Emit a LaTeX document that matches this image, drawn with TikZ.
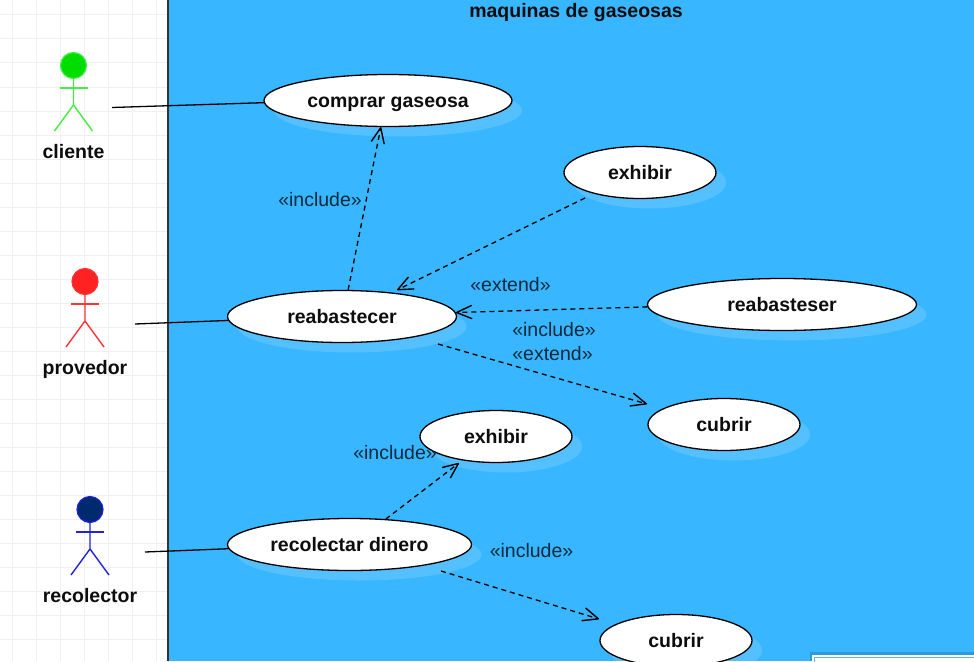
\documentclass[tikz,border=0pt]{standalone}
\usepackage{fontspec}
\setmainfont{Liberation Sans}
\usetikzlibrary{arrows.meta,shapes.geometric,shadows}
\definecolor{canvas}{HTML}{38B6FF}
\definecolor{gridline}{HTML}{F0F0F0}
\definecolor{labeltext}{HTML}{0B2A3E}
\tikzset{
	usecase/.style={ellipse,draw=black,line width=1.3pt,fill=white,inner sep=0pt,minimum height=52pt,text height=14.5pt,text depth=0pt,font=\fontsize{19.5}{24}\selectfont\bfseries,text=black!95,drop shadow={shadow xshift=10pt,shadow yshift=-10pt,fill=white,opacity=.15}},
	rel/.style={line width=1.3pt,black},
	dep/.style={rel,dash pattern=on 5pt off 4pt,-{Straight Barb[length=15pt,width=13pt,line width=1.4pt,round=false]}},
	tag/.style={font=\fontsize{19.5}{24}\selectfont,text=labeltext},
	actorname/.style={text height=14.5pt,text depth=0pt,font=\fontsize{19.5}{24}\selectfont\bfseries,text=black!95},
}
\begin{document}
\begin{tikzpicture}[x=1pt,y=-1pt]
	\useasboundingbox(0,0)rectangle(974,661);
	\clip(0,0)rectangle(974,661);
	\fill[white](0,0)rectangle(974,661);
	\foreach\i in{0,...,6}{\draw[gridline,line width=1pt](12.5+24*\i,0)--(12.5+24*\i,661);}
	\foreach\i in{0,...,27}{\draw[gridline,line width=1pt](0,15+24*\i)--(168,15+24*\i);}
	\fill[canvas](168,0)rectangle(974,661);
	\draw[black!80,line width=2pt](168,0)--(168,661);
	\node[actorname](title)at(576,10){maquinas de gaseosas};
	%casos de uso
	\node[usecase,minimum width=248pt](comprar)at(388,100.5){comprar gaseosa};
	\node[usecase,minimum width=152pt](exhibirA)at(640,172.5){exhibir};
	\node[usecase,minimum width=229pt](reabastecer)at(342,316.5){reabastecer};
	\node[usecase,minimum width=269pt](reabasteser)at(782,304.5){reabasteser};
	\node[usecase,minimum width=152pt](cubrirA)at(724,424.5){cubrir};
	\node[usecase,minimum width=152pt](exhibirB)at(496,436.5){exhibir};
	\node[usecase,minimum width=244pt](recolectar)at(349.5,544.5){recolectar dinero};
	\node[usecase,minimum width=152pt](cubrirB)at(676,640.5){cubrir};
	%actores
	\foreach\a/\x/\y/\c/\l/\t in{%
		cliente/73.5/65.5/00DD00/44EE44/cliente,%
		provedor/85/281.5/FF2222/FF3333/provedor,%
		recolector/90/509.5/002A6E/2222DD/recolector}{
		\definecolor{headfill}{HTML}{\c}
		\definecolor{bodyline}{HTML}{\l}
		\node[circle,draw=bodyline,fill=headfill,line width=1.2pt,minimum size=26pt,inner sep=0pt](\a)at(\x,\y){};
		\draw[bodyline,line width=1.4pt](\a.south)--(\x,\y+39.5)--(\x-19,\y+65.5);
		\draw[bodyline,line width=1.4pt](\x,\y+39.5)--(\x+19,\y+65.5);
		\draw[bodyline,line width=1.4pt](\x-14,\y+22.5)--(\x+14,\y+22.5);
		\node[actorname](\a label)at(\x,\y+85.5){\t};
	}
	%extremos libres
	\coordinate(clienteEnd)at(112,107.5);
	\coordinate(provedorEnd)at(135,324);
	\coordinate(recolectorEnd)at(145,552);
	\coordinate(exhibirOut)at(585,198);
	\coordinate(reabIn)at(397,290);
	\coordinate(reabOut)at(438,344);
	\coordinate(cubrirAIn)at(647,404);
	\coordinate(exhibirBIn)at(459,463);
	\coordinate(recolectarOut)at(441,571);
	\coordinate(cubrirBIn)at(599,619);
	\draw[rel](clienteEnd)--(comprar.181.5);
	\draw[rel](provedorEnd)--(reabastecer.182);
	\draw[rel](recolectorEnd)--(recolectar.182);
	\draw[dep](reabastecer.77)--(comprar.255);
	\draw[dep](exhibirOut)--(reabIn);
	\draw[dep](reabasteser.181)--(reabastecer.2);
	\draw[dep](reabOut)--(cubrirAIn);
	\draw[dep](recolectar.35)--(exhibirBIn);
	\draw[dep](recolectarOut)--(cubrirBIn);
	\node[tag](tagA)at(320,199.5){«include»};
	\node[tag](tagB)at(510.5,284.5){«extend»};
	\node[tag](tagC)at(554,329.5){«include»};
	\node[tag](tagD)at(552.5,353.5){«extend»};
	\node[tag](tagE)at(395,452.5){«include»};
	\node[tag](tagF)at(531.5,550.5){«include»};
	%ventana abajo
	\fill[black,opacity=.15](810,652)rectangle(974,661);
	\draw[white,line width=2pt,fill=white](813,655.5)rectangle(980,670);
	\draw[blue!50!cyan!60,line width=1pt](814.5,657)rectangle(980,670);
\end{tikzpicture}
\end{document}
